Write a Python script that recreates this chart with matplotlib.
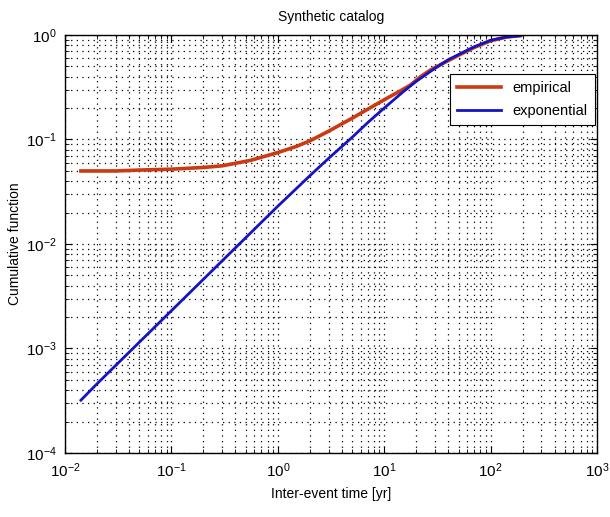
import matplotlib
matplotlib.use("Agg")
import matplotlib.pyplot as plt
from matplotlib.ticker import LogLocator, NullFormatter

plt.rcParams['font.family'] = ['Liberation Sans', 'DejaVu Sans']
plt.rcParams['mathtext.fontset'] = 'custom'
plt.rcParams['mathtext.rm'] = 'Liberation Sans'

# Empirical cumulative function
emp_t = [0.0141, 0.02, 0.03, 0.05, 0.1, 0.2, 0.3, 0.55, 1.0, 1.5, 2.0, 3.0,
         5.0, 7.0, 10.0, 14.0, 17.5, 22.0, 27.0, 35.0, 50.0, 70.0, 100.0, 140.0, 190.0]
emp_y = [0.050, 0.050, 0.050, 0.051, 0.052, 0.054, 0.056, 0.063, 0.075, 0.086,
         0.097, 0.12, 0.16, 0.195, 0.24, 0.29, 0.33, 0.40, 0.46, 0.53, 0.64,
         0.76, 0.88, 0.955, 0.985]

# Exponential cumulative function
exp_t = [0.0141, 0.02, 0.05, 0.1, 0.2, 0.5, 1.0, 2.0, 3.0, 5.0, 7.0, 10.0,
         15.0, 20.0, 30.0, 40.0, 50.0, 70.0, 100.0, 140.0, 190.0]
exp_y = [3.2e-4, 4.6e-4, 1.15e-3, 2.3e-3, 4.6e-3, 1.15e-2, 2.3e-2, 4.5e-2,
         0.066, 0.105, 0.145, 0.20, 0.285, 0.36, 0.48, 0.58, 0.65, 0.77,
         0.89, 0.955, 0.985]

fig = plt.figure(figsize=(6.10, 5.17), dpi=100)
ax = fig.add_axes([0.1066, 0.1238, 0.8721, 0.8085])

ax.plot(emp_t, emp_y, color='#cc3a12', lw=2.6, label='empirical')
ax.plot(exp_t, exp_y, color='#1414c4', lw=2.0, label='exponential')

ax.set_xscale('log')
ax.set_yscale('log')
ax.set_xlim(1e-2, 1e3)
ax.set_ylim(1e-4, 1e0)

ax.xaxis.set_major_locator(LogLocator(base=10, numticks=10))
ax.yaxis.set_major_locator(LogLocator(base=10, numticks=10))
ax.xaxis.set_minor_locator(LogLocator(base=10, subs=range(2, 10), numticks=20))
ax.yaxis.set_minor_locator(LogLocator(base=10, subs=range(2, 10), numticks=20))
ax.xaxis.set_minor_formatter(NullFormatter())
ax.yaxis.set_minor_formatter(NullFormatter())

ax.grid(True, which='both', linestyle=(0, (1, 3.5)), color='black', linewidth=0.9)
ax.tick_params(which='both', direction='in', top=True, right=True, labelsize=11)
ax.tick_params(axis='y', pad=6)
ax.tick_params(axis='x', pad=6)
ax.tick_params(which='major', length=5)
ax.tick_params(which='minor', length=3)
for s in ax.spines.values():
    s.set_linewidth(1.0)

ax.set_title('Synthetic catalog', fontsize=10, pad=10)
ax.set_xlabel('Inter-event time [yr]', fontsize=10, labelpad=5)
ax.set_ylabel('Cumulative function', fontsize=10, labelpad=3)

leg = ax.legend(loc='upper right', bbox_to_anchor=(0.996, 0.907), fontsize=10.5,
                fancybox=False, framealpha=1, edgecolor='black',
                borderaxespad=0, handlelength=3.0, borderpad=0.5, labelspacing=0.6)
leg.get_frame().set_linewidth(0.8)

fig.savefig('out.png', dpi=100)
